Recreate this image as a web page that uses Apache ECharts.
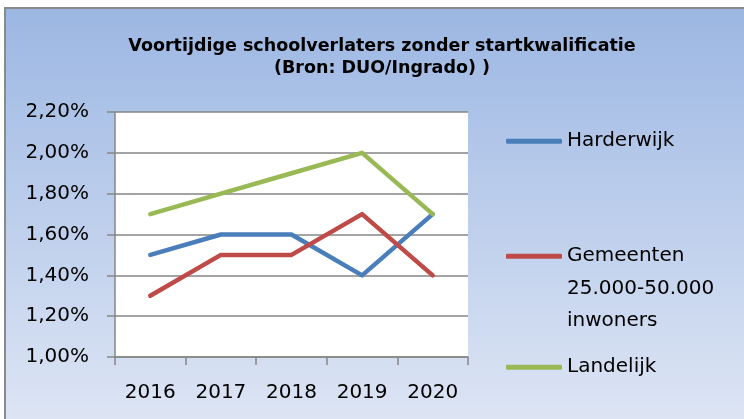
<!DOCTYPE html>
<html>
<head>
<meta charset="utf-8">
<script src="https://cdn.jsdelivr.net/npm/echarts@6/dist/echarts.min.js"></script>
<style>
  html, body { margin: 0; padding: 0; background: #fff; }
  #chart { width: 744px; height: 419px; }
</style>
</head>
<body>
<div id="chart"></div>
<script>
const years = ['2016', '2017', '2018', '2019', '2020'];
const harderwijk = [1.5, 1.6, 1.6, 1.4, 1.7];
const gemeenten = [1.3, 1.5, 1.5, 1.7, 1.4];
const landelijk = [1.7, 1.8, 1.9, 2.0, 1.7];
const seriesNames = ['Harderwijk', 'Gemeenten', 'Landelijk'];
const gemeentenLabel = 'Gemeenten\n25.000-50.000\ninwoners';

const labelFont = 'DejaVu Sans';
const gridColor = '#868686';

const chart = echarts.init(document.getElementById('chart'));

function legendFor(name, top, formatter) {
    return {
        data: [name],
        orient: 'vertical',
        left: 501,
        top: top,
        icon: 'roundRect',
        itemWidth: 56,
        itemHeight: 5,
        itemGap: 0,
        formatter: formatter || '{name}',
        textStyle: {
            fontFamily: labelFont,
            fontSize: 20,
            color: '#000',
            lineHeight: 32.5
        }
    };
}

chart.setOption({
    backgroundColor: '#fff',
    graphic: [{
        type: 'rect',
        z: -10,
        shape: { x: 5, y: 8, width: 770, height: 430 },
        style: {
            fill: new echarts.graphic.LinearGradient(0, 0, 0, 1, [
                { offset: 0, color: '#9cb7e3' },
                { offset: 1, color: '#e0e7f5' }
            ]),
            stroke: '#8a8a8a',
            lineWidth: 2
        }
    }],
    title: {
        text: 'Voortijdige schoolverlaters zonder startkwalificatie\n(Bron: DUO/Ingrado) )',
        left: 377,
        textAlign: 'center',
        top: 30,
        textStyle: {
            fontFamily: 'DejaVu Sans',
            fontWeight: 'bold',
            fontSize: 17.5,
            lineHeight: 22,
            color: '#000'
        }
    },
    legend: [
        legendFor(seriesNames[0], 120),
        // two blank lines above so the first text line sits next to the icon
        legendFor(seriesNames[1], 170, () => ' \n \n' + gemeentenLabel),
        legendFor(seriesNames[2], 346)
    ],
    grid: {
        left: 115,
        top: 112,
        right: 276,
        bottom: 62,
        show: true,
        backgroundColor: '#fff',
        borderWidth: 0
    },
    xAxis: {
        type: 'category',
        data: years,
        boundaryGap: true,
        axisLine: { lineStyle: { color: gridColor, width: 1.5 } },
        axisTick: { show: true, length: 8, lineStyle: { color: gridColor, width: 1.5 } },
        axisLabel: { fontFamily: labelFont, fontSize: 20, color: '#000', margin: 26 }
    },
    yAxis: {
        type: 'value',
        min: 1.0,
        max: 2.2,
        interval: 0.2,
        axisLine: { show: true, lineStyle: { color: gridColor, width: 1.5 } },
        axisTick: { show: true, length: 8, lineStyle: { color: gridColor, width: 1.5 } },
        splitLine: { lineStyle: { color: gridColor, width: 1.5 } },
        axisLabel: {
            fontFamily: labelFont,
            fontSize: 20,
            color: '#000',
            margin: 26,
            formatter: v => v.toFixed(2).replace('.', ',') + '%'
        }
    },
    series: [
        { name: seriesNames[0], type: 'line', data: harderwijk, color: '#4a7ebb' },
        { name: seriesNames[1], type: 'line', data: gemeenten, color: '#be4b48' },
        { name: seriesNames[2], type: 'line', data: landelijk, color: '#98b954' }
    ].map(s => Object.assign(s, {
        symbol: 'none',
        lineStyle: { width: 4.5, cap: 'round', join: 'round' },
        animation: false
    }))
});
</script>
</body>
</html>
